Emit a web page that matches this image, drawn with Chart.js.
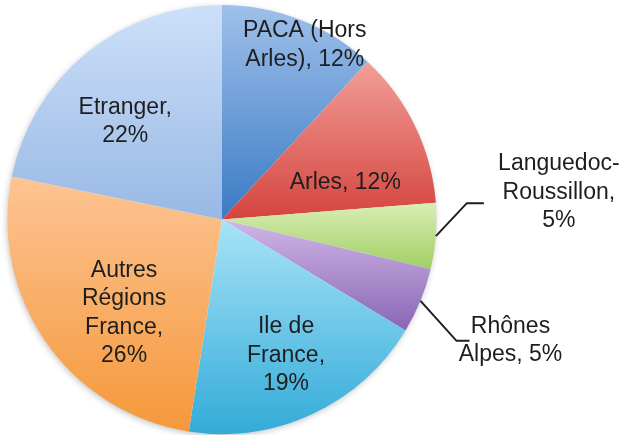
<!DOCTYPE html>
<html>
<head>
<meta charset="utf-8">
<script src="https://cdn.jsdelivr.net/npm/chart.js@4.4.1/dist/chart.umd.min.js"></script>
<style>
html,body{margin:0;padding:0;background:#fff;}
canvas{display:block;}
</style>
</head>
<body>
<canvas id="c" width="624" height="435"></canvas>
<script>
// ---- data ----
const categories = ['PACA (Hors Arles)', 'Arles', 'Languedoc-Roussillon', 'Rhônes Alpes', 'Ile de France', 'Autres Régions France', 'Etranger'];
const shares = [12, 12, 5, 5, 19, 26, 22];
const labelLines = [
  ['PACA (Hors', 'Arles), 12%'],
  ['Arles, 12%'],
  ['Languedoc-', 'Roussillon,', '5%'],
  ['Rhônes', 'Alpes, 5%'],
  ['Ile de', 'France,', '19%'],
  ['Autres', 'Régions', 'France,', '26%'],
  ['Etranger,', '22%']
];

// ---- styles ----
const lightColors = ['#9fc0ea', '#f29e99', '#d8eeb3', '#cfb7e7', '#a8e3f8', '#fdc493', '#cde0f8'];
const darkColors  = ['#3a7bc4', '#d5443e', '#a2ce66', '#8965b4', '#33abd8', '#f5983a', '#98b8e5'];
// label placement: inside (radius fraction, angular shift in degrees) or outside (leader line)
const placement = [
  {type: 'in', r: 0.90, shift: 4.0},
  {type: 'in', r: 0.60, shift: 9.1},
  {type: 'out', elbow: [31, -33], run: 17, textDx: 75, textDy: -11},
  {type: 'out', elbow: [36, 40], run: 13, textDx: 41, textDy: 0},
  {type: 'in', r: 0.70, shift: -0.3},
  {type: 'in', r: 0.632, shift: -9.0},
  {type: 'in', r: 0.641, shift: -5.5}
];
const FONT = '23px "Liberation Sans", Arial, Helvetica, sans-serif';
const LINE_H = 28.5;

const shadePlugin = {
  id: 'shade',
  beforeDatasetsDraw(chart) {
    const ctx = chart.ctx;
    const meta = chart.getDatasetMeta(0);
    const a0 = meta.data[0].getProps(['x', 'y', 'outerRadius'], true);
    // soft drop shadow under the pie
    ctx.save();
    ctx.shadowColor = 'rgba(0,0,0,0.28)';
    ctx.shadowBlur = 7;
    ctx.shadowOffsetX = -1;
    ctx.shadowOffsetY = 2;
    ctx.beginPath();
    ctx.arc(a0.x, a0.y, a0.outerRadius - 1, 0, Math.PI * 2);
    ctx.fillStyle = '#ffffff';
    ctx.fill();
    ctx.restore();
    meta.data.forEach((arc, i) => {
      const p = arc.getProps(['x', 'y', 'startAngle', 'endAngle', 'outerRadius'], true);
      let minY = p.y, maxY = p.y;
      for (let k = 0; k <= 40; k++) {
        const a = p.startAngle + (p.endAngle - p.startAngle) * k / 40;
        const py = p.y + p.outerRadius * Math.sin(a);
        minY = Math.min(minY, py); maxY = Math.max(maxY, py);
      }
      if (maxY - minY < 1) maxY = minY + 1;
      const g = ctx.createLinearGradient(0, minY, 0, maxY);
      g.addColorStop(0, lightColors[i]);
      g.addColorStop(1, darkColors[i]);
      arc.options.backgroundColor = g;
    });
  }
};

function drawBlock(ctx, lines, cx, cy) {
  const n = lines.length;
  lines.forEach((t, k) => {
    ctx.fillText(t, cx, cy + (k - (n - 1) / 2) * LINE_H);
  });
}

const labelPlugin = {
  id: 'sliceLabels',
  afterDatasetsDraw(chart) {
    const ctx = chart.ctx;
    const meta = chart.getDatasetMeta(0);
    ctx.save();
    ctx.font = FONT;
    ctx.fillStyle = '#1e1e1e';
    ctx.textAlign = 'center';
    ctx.textBaseline = 'middle';
    meta.data.forEach((arc, i) => {
      const p = arc.getProps(['x', 'y', 'startAngle', 'endAngle', 'outerRadius'], true);
      const mid = (p.startAngle + p.endAngle) / 2;
      const pl = placement[i];
      if (pl.type === 'in') {
        const a = mid + pl.shift * Math.PI / 180;
        const r = p.outerRadius * pl.r;
        drawBlock(ctx, labelLines[i], p.x + r * Math.cos(a), p.y + r * Math.sin(a));
      } else {
        const ex = p.x + p.outerRadius * Math.cos(mid);
        const ey = p.y + p.outerRadius * Math.sin(mid);
        const bx = ex + pl.elbow[0], by = ey + pl.elbow[1];
        const fx = bx + pl.run;
        ctx.beginPath();
        ctx.moveTo(ex, ey);
        ctx.lineTo(bx, by);
        ctx.lineTo(fx, by);
        ctx.strokeStyle = '#1e1e1e';
        ctx.lineWidth = 2;
        ctx.stroke();
        drawBlock(ctx, labelLines[i], fx + pl.textDx, by + pl.textDy);
      }
    });
    ctx.restore();
  }
};

new Chart(document.getElementById('c'), {
  type: 'pie',
  data: {
    labels: categories,
    datasets: [{
      data: shares,
      backgroundColor: darkColors,
      borderWidth: 0
    }]
  },
  options: {
    responsive: false,
    animation: false,
    layout: {padding: {left: 7, top: 5, right: 187, bottom: 1}},
    plugins: {
      legend: {display: false},
      tooltip: {enabled: false}
    },
    events: []
  },
  plugins: [shadePlugin, labelPlugin]
});
</script>
</body>
</html>
